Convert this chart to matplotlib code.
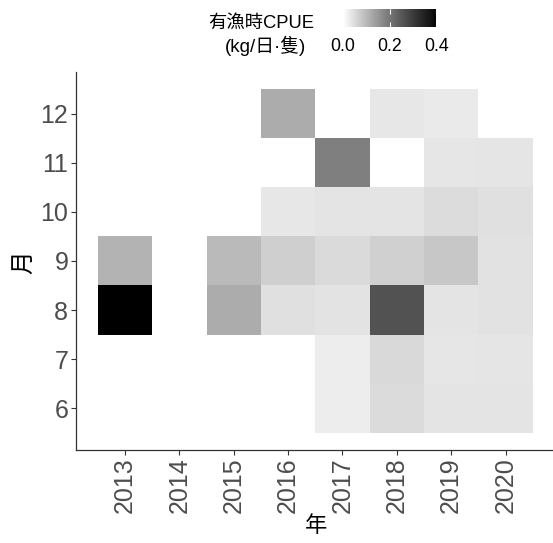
import numpy as np
import matplotlib
matplotlib.use('Agg')
import matplotlib.pyplot as plt
from matplotlib.colors import LinearSegmentedColormap, Normalize
import matplotlib.cm as cm

plt.rcParams['font.family'] = ['Liberation Sans', 'Noto Sans CJK TC', 'DejaVu Sans']

years = [2013, 2014, 2015, 2016, 2017, 2018, 2019, 2020]
months = [6, 7, 8, 9, 10, 11, 12]
nan = np.nan
# CPUE (kg/day/boat), rows = months 6..12, cols = years 2013..2020
cpue = [
    [nan, nan, nan,   nan,   0.025, 0.050, 0.039, 0.039],   # 6
    [nan, nan, nan,   nan,   0.026, 0.054, 0.035, 0.037],   # 7
    [0.400, nan, 0.120, 0.044, 0.040, 0.260, 0.039, 0.042], # 8
    [0.108, nan, 0.098, 0.068, 0.052, 0.066, 0.079, 0.042], # 9
    [nan, nan, nan,   0.033, 0.038, 0.039, 0.049, 0.044],   # 10
    [nan, nan, nan,   nan,   0.186, 0.000, 0.035, 0.036],   # 11
    [nan, nan, nan,   0.120, nan,   0.033, 0.030, nan],     # 12
]
cbar_ticks = [0.0, 0.2, 0.4]
vmin, vmax = 0.0, 0.40


def lab_grey(L):
    # white->black interpolated in Lab lightness, like ggplot's gradient
    fy = (L + 16) / 116
    Y = np.where(L > 8, fy ** 3, L / 903.3)
    c = np.where(Y <= 0.0031308, 12.92 * Y, 1.055 * Y ** (1 / 2.4) - 0.055)
    return np.clip(c, 0, 1)


g = lab_grey(np.linspace(100, 0, 256))
cmap = LinearSegmentedColormap.from_list('labgrey', [(v, v, v) for v in g])
norm = Normalize(vmin=vmin, vmax=vmax)

W, H = 553, 543
fig = plt.figure(figsize=(W / 100, H / 100), dpi=100)

x0, x1, y0, y1 = 76, 554.5, 71.8, 450
ax = fig.add_axes([x0 / W, 1 - y1 / H, (x1 - x0) / W, (y1 - y0) / H])

xe = np.arange(years[0] - 0.5, years[-1] + 1.0, 1.0)
ye = np.arange(months[0] - 0.5, months[-1] + 1.0, 1.0)
data = np.ma.masked_invalid(np.array(cpue))
ax.pcolormesh(xe, ye, data, cmap=cmap, norm=norm, shading='flat')

ax.set_xlim(2012.1, 2020.9)
ax.set_ylim(5.15, 12.85)
ax.set_xticks(years)
ax.set_xticklabels([str(y) for y in years], rotation=90)
ax.set_yticks(months)
for s in ['top', 'right']:
    ax.spines[s].set_visible(False)
for s in ['left', 'bottom']:
    ax.spines[s].set_color('#333333')
    ax.spines[s].set_linewidth(0.9)
ax.tick_params(axis='both', length=3.5, width=0.8, color='#333333',
               labelcolor='#4D4D4D', labelsize=18, pad=2)

fig.text(24 / W, 1 - 262 / H, '月', rotation=90, ha='center', va='center', fontsize=17, color='black')
fig.text(316 / W, 1 - 527 / H, '年', ha='center', va='center', fontsize=16, color='black')

# legend
fig.text(208 / W, 1 - 28 / H, '有漁時CPUE', ha='left', va='baseline', fontsize=13.2, color='black')
fig.text(225 / W, 1 - 52 / H, '(kg/日·隻)', ha='left', va='baseline', fontsize=13.5, color='black')

cx0, cx1, cy0, cy1 = 343, 436.3, 9, 27
cax = fig.add_axes([cx0 / W, 1 - cy1 / H, (cx1 - cx0) / W, (cy1 - cy0) / H])
sm = cm.ScalarMappable(norm=norm, cmap=cmap)
cb = fig.colorbar(sm, cax=cax, orientation='horizontal', ticks=cbar_ticks)
cb.outline.set_visible(False)
cb.ax.set_xticklabels(['0.0', '0.2', '0.4'])
cax.tick_params(axis='x', direction='in', color='white', length=3.6, width=0.8,
                top=True, bottom=True, labelcolor='black', labelsize=12.8, pad=8)

fig.savefig('out.png', dpi=100)
